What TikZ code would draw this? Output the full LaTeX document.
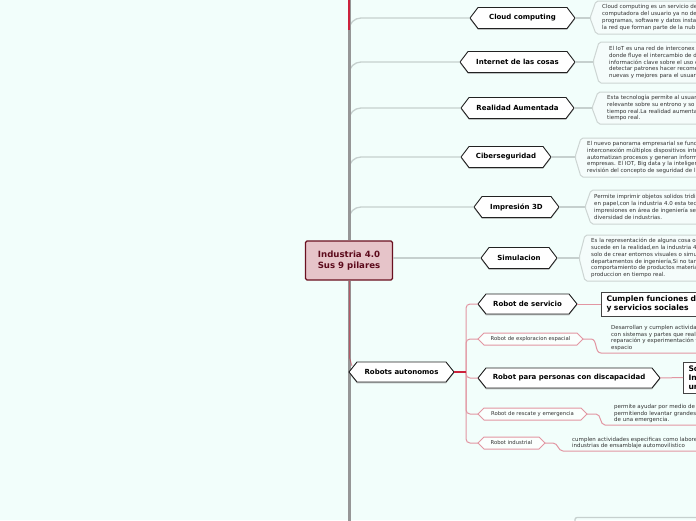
\documentclass[tikz,border=0pt]{standalone}
\usepackage{fontspec}
\setmainfont{DejaVu Sans}
\usetikzlibrary{calc,shadows}
\definecolor{bg}{RGB}{242,254,251}
\definecolor{trunkgray}{RGB}{150,150,150}
\definecolor{mmred}{RGB}{204,34,60}
\definecolor{mmpink}{RGB}{226,150,162}
\definecolor{linegray}{RGB}{198,208,206}
\definecolor{hexborder}{RGB}{34,34,34}
\definecolor{textgray}{RGB}{50,50,50}
\definecolor{boxgray}{RGB}{205,213,211}
\definecolor{boxfill}{RGB}{245,252,251}
\definecolor{hubfill}{RGB}{230,196,201}
\definecolor{hubline}{RGB}{106,16,32}
\definecolor{hubtext}{RGB}{92,10,28}
\tikzset{
 trunk/.style={draw=trunkgray, line width=3},
 redtrunk/.style={draw=mmred, line width=2},
 grayline/.style={draw=linegray, line width=1.3},
 pinkline/.style={draw=mmpink, line width=1},
 robred/.style={draw=mmred, line width=2},
 hexdark/.style={draw=hexborder, fill=white, line width=0.9,
   drop shadow={shadow xshift=0pt, shadow yshift=-1.3pt, fill=black!40, opacity=0.6}},
 hexdark text/.style={font=\fontsize{7}{8}\selectfont\bfseries, text=black, inner sep=0},
 hexpink/.style={draw=mmpink, fill=white!60!bg, line width=1},
 hexpink text/.style={font=\fontsize{5.3}{6}\selectfont, text=textgray, inner sep=0},
 descbox/.style={draw=boxgray, fill=boxfill, line width=1, rounded corners=2},
 desctext/.style={font=\fontsize{5.5}{6.8}\selectfont, text=textgray, align=left, inner sep=0, anchor=west},
 darkbox/.style={draw=hexborder!85, fill=white, line width=1, align=left, anchor=west,
   inner xsep=5pt, inner ysep=2pt, text width=120pt, font=\fontsize{7.6}{9}\selectfont\bfseries,
   drop shadow={shadow xshift=0pt, shadow yshift=-1.3pt, fill=black!40, opacity=0.6}},
 hubbox/.style={draw=hubline, fill=hubfill, line width=1.2, rounded corners=1.5,
   minimum width=87pt, minimum height=39pt, align=center, text=hubtext,
   font=\fontsize{8.6}{10.5}\selectfont\bfseries}
}
% name, style, xl, xr, yc, half-height, depth, text
\newcommand\hexa[8]{%
  \path[#2] (#3,#5) -- ({#3+#7},{#5-#6}) -- ({#4-#7},{#5-#6}) -- (#4,#5)
     -- ({#4-#7},{#5+#6}) -- ({#3+#7},{#5+#6}) -- cycle;
  \node[#2 text] (#1) at ({(#3+#4)/2},#5) {#8};
  \coordinate (#1-w) at (#3,#5);
  \coordinate (#1-e) at (#4,#5);
}
% name, xpoint, ypoint, top, bottom, textx, text
\newcommand\descbx[7]{%
  \path[descbox] (#2,#3) -- ({#2+6},#4) -- (730,#4) -- (730,#5) -- ({#2+6},#5) -- cycle;
  \node[desctext] (#1) at (#6,{(#4+#5)/2}) {#7};
  \coordinate (#1-w) at (#2,#3);
}
\begin{document}
\begin{tikzpicture}[x=1pt,y=-1pt]
\useasboundingbox (0,0) rectangle (696,520);
\fill[bg] (0,0) rectangle (696,520);
\clip (0,0) rectangle (696,520);

% central node
\node[hubbox] (hub) at (349,260.5) {Industria 4.0\\Sus 9 pilares};

% level-1 hexagons
\hexa{cloud}{hexdark}{470}{575}{18}{10.5}{8}{Cloud computing}
\hexa{iot}{hexdark}{460}{575}{62}{10.5}{8}{Internet de las cosas}
\hexa{ra}{hexdark}{461}{574}{108}{10.5}{8}{Realidad Aumentada}
\hexa{ciber}{hexdark}{461}{551}{157}{10.5}{8}{Ciberseguridad}
\hexa{imp}{hexdark}{474}{559}{207}{10.5}{8}{Impresión 3D}
\hexa{sim}{hexdark}{481}{557}{258}{10.5}{8}{Simulacion}

% gray connectors
\foreach \n in {cloud,iot,ra,ciber,imp}{
  \draw[grayline, rounded corners=12] ($(\n-w -| hub)+(0,14)$) |- (\n-w);
}
\draw[grayline] (hub.east |- sim-w) -- (sim-w);

% trunk
\coordinate (ttop) at (349,0);
\coordinate (tbot) at (349,521);
\coordinate (tred) at (349,30);
\draw[trunk] (ttop) -- (hub.north);
\draw[trunk] (hub.south) -- (tbot);
\draw[redtrunk] (ttop) -- (tred);
\draw[mmred, line width=0.9, opacity=0.5] (349.6,281) -- (349.6,358) -- (352,366);

% robots branch
\hexa{robots}{hexdark}{349}{454}{372}{10}{8}{Robots autonomos}
\hexa{serv}{hexdark}{478}{577}{304}{10}{8}{Robot de servicio}
\hexa{expl}{hexpink}{478}{583}{339}{6}{6}{Robot de exploracion espacial}
\hexa{disc}{hexdark}{478}{660}{378}{10}{8}{Robot para personas con discapacidad}
\hexa{resc}{hexpink}{478}{587}{414}{6}{6}{Robot de rescate y emergencia}
\hexa{ind}{hexpink}{478}{545}{443}{6}{6}{Robot industrial}

\coordinate (rj) at (466,372);
\foreach \n in {serv,expl,disc,resc,ind}{
  \draw[pinkline, rounded corners=4] (\n-w) -| (rj);
}
\draw[robred] (robots-e) -- (rj);

% description boxes of the pillars
\descbx{clouddesc}{590}{18}{1}{34}{602}{Cloud computing es un servicio de\\computadora del usuario ya no de\\programas, software y datos insta\\la red que forman parte de la nub}
\descbx{iotdesc}{593}{62}{42}{83}{609}{El IoT es una red de interconex\\donde fluye el intercambio de d\\información clave sobre el uso e\\detectar patrones hacer recome\\nuevas y mejores para el usuar}
\descbx{radesc}{592}{108}{92}{124}{607}{Esta tecnología permite al usuar\\relevante sobre su entrono y so\\tiempo real.La realidad aumenta\\tiempo real.}
\descbx{ciberdesc}{575}{157}{138}{177}{587}{El nuevo panorama empresarial se fund\\interconexión múltiplos dispositivos inte\\automatizan procesos y generan inform\\empresas. El IOT, Big data y la inteligen\\revisión del concepto de seguridad de l}
\descbx{impdesc}{585}{207}{190}{224}{594}{Permite imprimir objetos solidos tridi\\en papel,con la industria 4.0 esta tec\\impresiones en área de ingeniería se\\diversidad de industrias.}
\descbx{simdesc}{579}{258}{235}{281}{591}{Es la representación de alguna cosa o\\sucede en la realidad,en la industria 4\\solo de crear entornos visuales o simu\\departamentos de ingeniería,Si no tan\\comportamiento de productos materia\\produccion en tiempo real.}

\foreach \n in {cloud,iot,ra,ciber,imp,sim}{
  \draw[grayline] (\n-e) -- (\n desc-w);
}

% robot descriptions
\node[darkbox, minimum height=24pt] (servdesc) at (601,304) {Cumplen funciones de a\\y servicios sociales};
\node[darkbox, minimum height=31pt] (discdesc) at (683,377.5) {So\\In\\un};
\draw[pinkline] (serv-e) -- (servdesc.west);
\draw[pinkline] (disc-e) -- (discdesc.west);

\node[desctext] (expldesc) at (611,338) {Desarrollan y cumplen activida\\con sistemas y partes que reali\\reparación y experimentación t\\espacio};
\coordinate (explu) at (601,353);
\coordinate (explend) at (730,353);
\draw[pinkline] (expl-e) -- ++(8,0) to[out=0,in=180] (explu) -- (explend);

\node[desctext] (rescdesc) at (614,413.5) {permite ayudar por medio de\\permitiendo levantar grandes\\de una emergencia.};
\coordinate (rescu) at (605,425);
\coordinate (rescend) at (730,425);
\draw[pinkline] (resc-e) -- ++(9,0) to[out=0,in=180] (rescu) -- (rescend);

\node[desctext] (inddesc) at (572,443) {cumplen actividades especificas como labore\\industrias de ensamblaje automovilistico};
\coordinate (indu) at (563,451);
\coordinate (indend) at (730,451);
\draw[pinkline] (ind-e) -- ++(8,0) to[out=0,in=180] (indu) -- (indend);

% box partly visible at the bottom
\coordinate (bl) at (575,522);
\coordinate (br) at (730,517.5);
\draw[grayline, rounded corners=2] (bl) |- (br);
\end{tikzpicture}
\end{document}
